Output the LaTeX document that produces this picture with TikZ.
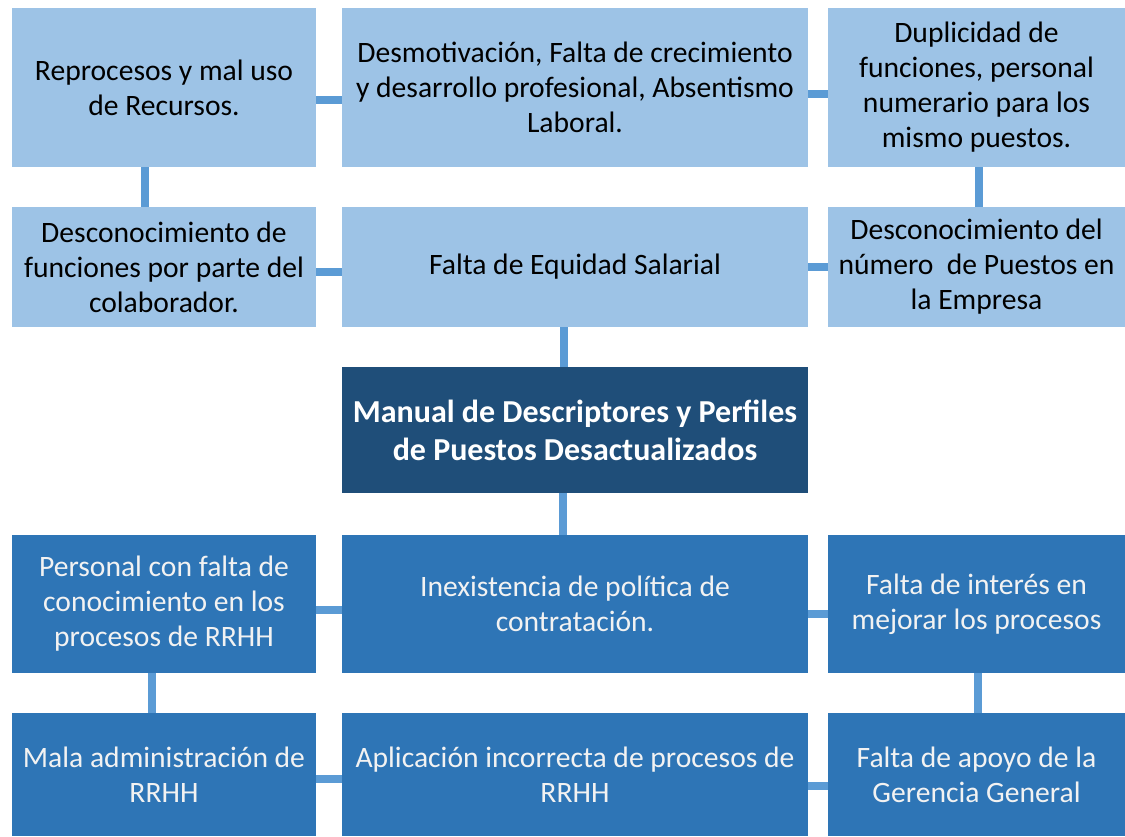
\documentclass[tikz,border=0pt]{standalone}
\usepackage{fontspec}
\setmainfont{Carlito}
\definecolor{lightbox}{HTML}{9DC3E6}
\definecolor{midbox}{HTML}{2E75B6}
\definecolor{darkbox}{HTML}{1F4E79}
\definecolor{linkblue}{HTML}{5B9BD5}
\definecolor{paletext}{HTML}{F2F2F2}

\begin{document}
\begin{tikzpicture}[x=0.5pt,y=-0.5pt,
  box/.style={inner sep=0pt, align=center, font=\fontsize{14.8}{17.5}\selectfont},
  light/.style={box, fill=lightbox, text=black},
  mid/.style={box, fill=midbox, text=paletext},
  dark/.style={box, fill=darkbox, text=white, font=\fontsize{16}{19}\selectfont\bfseries},
  colL/.style={minimum width=152pt},
  colM/.style={minimum width=233pt},
  colR/.style={minimum width=148.5pt},
  link/.style={draw=linkblue, line width=4pt}]
\useasboundingbox (0,0) rectangle (1125,836);

\node[light,colL,minimum height=79.5pt] (repro) at (164,87.5) {Reprocesos y mal uso\\de Recursos.};
\node[light,colM,minimum height=79.5pt] (desmot) at (575,87.5) {Desmotivación, Falta de crecimiento\\y desarrollo profesional, Absentismo\\Laboral.};
\node[light,colR,minimum height=79.5pt] (duplic) at (976.5,87.5) {Duplicidad de\\funciones, personal\\numerario para los\\mismo puestos.};

\node[light,colL,minimum height=60pt] (descfun) at (164,267) {Desconocimiento de\\funciones por parte del\\colaborador.};
\node[light,colM,minimum height=60pt] (equidad) at (575,267) {Falta de Equidad Salarial};
\node[light,colR,minimum height=60pt] (descnum) at (976.5,267) {Desconocimiento del\\número\ \ de Puestos en\\la Empresa};

\node[dark,colM,minimum height=63pt] (manual) at (575,430) {Manual de Descriptores y Perfiles\\de Puestos Desactualizados};

\node[mid,colL,minimum height=69pt] (personal) at (164,604) {Personal con falta de\\conocimiento en los\\procesos de RRHH};
\node[mid,colM,minimum height=69pt] (inexist) at (575,604) {Inexistencia de política de\\contratación.};
\node[mid,colR,minimum height=69pt] (interes) at (976.5,604) {Falta de interés en\\mejorar los procesos};

\node[mid,colL,minimum height=61.5pt] (malaadm) at (164,774.5) {Mala administración de\\RRHH};
\node[mid,colM,minimum height=61.5pt] (aplic) at (575,774.5) {Aplicación incorrecta de procesos de\\RRHH};
\node[mid,colR,minimum height=61.5pt] (apoyo) at (976.5,774.5) {Falta de apoyo de la\\Gerencia General};

\draw[link] ([yshift=-6.25pt]repro.east) -- ([yshift=-6.25pt]repro.east -| desmot.west);
\draw[link] ([yshift=-3.25pt]desmot.east) -- ([yshift=-3.25pt]desmot.east -| duplic.west);
\draw[link] ([yshift=-2.5pt]descfun.east) -- ([yshift=-2.5pt]descfun.east -| equidad.west);
\draw[link] (equidad.east) -- (descnum.west);
\draw[link] ([yshift=-3pt]personal.east) -- ([yshift=-3pt]personal.east -| inexist.west);
\draw[link] ([yshift=-5pt]inexist.east) -- ([yshift=-5pt]inexist.east -| interes.west);
\draw[link] ([yshift=-2.25pt]malaadm.east) -- ([yshift=-2.25pt]malaadm.east -| aplic.west);
\draw[link] ([yshift=-5.75pt]aplic.east) -- ([yshift=-5.75pt]aplic.east -| apoyo.west);

\draw[link] ([xshift=-9.5pt]repro.south) -- ([xshift=-9.5pt]descfun.north);
\draw[link] ([xshift=1.25pt]duplic.south) -- ([xshift=1.25pt]descnum.north);
\draw[link] ([xshift=-5.5pt]equidad.south) -- ([xshift=-5.5pt]manual.north);
\draw[link] ([xshift=-6pt]manual.south) -- ([xshift=-6pt]inexist.north);
\draw[link] ([xshift=-6pt]personal.south) -- ([xshift=-6pt]malaadm.north);
\draw[link] ([xshift=0.75pt]interes.south) -- ([xshift=0.75pt]apoyo.north);
\end{tikzpicture}
\end{document}
